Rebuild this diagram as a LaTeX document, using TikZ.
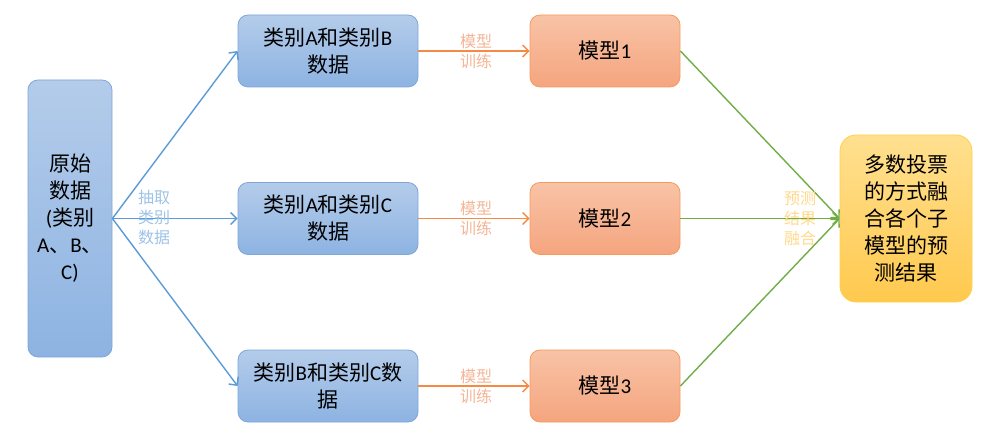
\documentclass[tikz,border=0pt]{standalone}
\usepackage{fontspec}
\setmainfont{Noto Sans CJK SC}
\newfontfamily\lat{Carlito}
\usetikzlibrary{arrows.meta}
\definecolor{bluefillA}{HTML}{B4CCEA}
\definecolor{bluefillB}{HTML}{8DB3E2}
\definecolor{blueline}{HTML}{7EA6D8}
\definecolor{bluearrow}{HTML}{5B9BD5}
\definecolor{bluelabel}{HTML}{9DC3E6}
\definecolor{orfillA}{HTML}{F8C3A6}
\definecolor{orfillB}{HTML}{F5A57F}
\definecolor{orline}{HTML}{F79A5E}
\definecolor{orarrow}{HTML}{F58A45}
\definecolor{orlabel}{HTML}{F4B596}
\definecolor{yefillA}{HTML}{FFE090}
\definecolor{yefillB}{HTML}{FFC94E}
\definecolor{yeline}{HTML}{FFD04A}
\definecolor{yelabel}{HTML}{FFD98A}
\definecolor{grarrow}{HTML}{70AD47}
\tikzset{
  boxtext/.style={font=\fontsize{21}{27}\selectfont, align=center, text=black, inner sep=0pt},
  bluebox/.style={boxtext, rounded corners=10pt, draw=blueline, line width=0.8pt, top color=bluefillA, bottom color=bluefillB},
  datbox/.style={bluebox, minimum width=180pt, minimum height=72pt},
  orbox/.style={boxtext, rounded corners=10pt, draw=orline, line width=0.8pt, top color=orfillA, bottom color=orfillB, minimum width=150pt, minimum height=72pt},
  yebox/.style={boxtext, rounded corners=16pt, draw=yeline, line width=0.8pt, top color=yefillA, bottom color=yefillB},
  lbl/.style={font=\fontsize{16}{20}\selectfont, align=center, inner sep=0pt},
  conn/.style={line width=1.4pt, -{Straight Barb[length=6pt,width=12pt,line width=1.4pt]}}
}
\begin{document}
\begin{tikzpicture}[x=1pt,y=-1pt]
\useasboundingbox (0,0) rectangle (981,443);
% source box
\node[bluebox, minimum width=84pt, minimum height=277pt] (src) at (70,218.5)
  {原始\\数据\\{\lat (}类别\\{\lat A}、{\lat B}、\\{\lat C)}};
% data boxes
\node[datbox] (d1) at (328,51) {类别{\lat A}和类别{\lat B}\\数据};
\node[datbox] (d2) at (328,218.5) {类别{\lat A}和类别{\lat C}\\数据};
\node[datbox] (d3) at (328,386) {类别{\lat B}和类别{\lat C}数\\据};
% model boxes
\node[orbox] (m1) at (605,51) {模型{\lat 1}};
\node[orbox] (m2) at (605,218.5) {模型{\lat 2}};
\node[orbox] (m3) at (605,386) {模型{\lat 3}};
% fusion box
\node[yebox, minimum width=132pt, minimum height=167pt] (fu) at (906,218.5)
  {多数投票\\的方式融\\合各个子\\模型的预\\测结果};
% connectors
\draw[conn, bluearrow] (src.east) -- (d1.west);
\draw[conn, bluearrow] (src.east) -- (d2.west);
\draw[conn, bluearrow] (src.east) -- (d3.west);
\draw[conn, orarrow] (d1.east) -- (m1.west);
\draw[conn, orarrow] (d2.east) -- (m2.west);
\draw[conn, orarrow] (d3.east) -- (m3.west);
\draw[conn, grarrow] (m1.east) -- (fu.west);
\draw[conn, grarrow] (m2.east) -- (fu.west);
\draw[conn, grarrow] (m3.east) -- (fu.west);
% labels
\node[lbl, text=bluelabel] (l1) at (154,217) {抽取\\类别\\数据};
\node[lbl, text=orlabel] (l2) at (476,51) {模型\\训练};
\node[lbl, text=orlabel] (l3) at (476,218.5) {模型\\训练};
\node[lbl, text=orlabel] (l4) at (476,386) {模型\\训练};
\node[lbl, text=yelabel] (l5) at (800,218.5) {预测\\结果\\融合};
\end{tikzpicture}
\end{document}
